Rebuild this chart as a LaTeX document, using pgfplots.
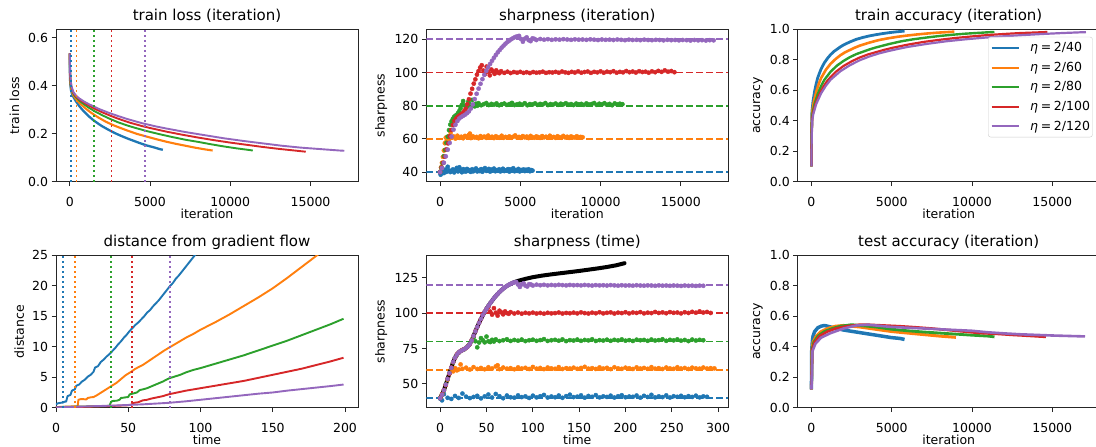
\documentclass[border=0pt]{standalone}
\usepackage{fontspec}
\setmainfont{DejaVu Sans}
\usepackage{pgfplots}
\usepackage{pgfplotstable}
\pgfplotsset{compat=1.18}
\definecolor{c0}{HTML}{1F77B4}
\definecolor{c1}{HTML}{FF7F0E}
\definecolor{c2}{HTML}{2CA02C}
\definecolor{c3}{HTML}{D62728}
\definecolor{c4}{HTML}{9467BD}
\newcommand{\lbfont}{\fontsize{12.5}{15}\selectfont}
\newcommand{\ttfont}{\fontsize{15}{18}\selectfont}

\pgfplotstableread{
t it s
0 0 39.6
2 40 38.4
4 80 42.8
8 160 40.2
12 240 39.4
16 320 41.5
20 400 40.1
24 480 43.2
28 560 41.0
32 640 40.0
36 720 40.8
40 800 41.6
44 880 39.8
48 960 41.2
52 1040 42.5
56 1120 40.4
60 1200 42.9
64 1280 41.3
68 1360 39.9
72 1440 41.8
76 1520 40.6
80 1600 40.3
84 1680 41.9
88 1760 40.7
92 1840 41.2
96 1920 40.1
100 2000 41.7
104 2080 40.5
108 2160 41.3
112 2240 42.2
116 2320 40.4
120 2400 41.1
124 2480 40.6
128 2560 41.8
132 2640 40.2
136 2720 41.4
140 2800 42.4
144 2880 40.7
148 2960 41.0
152 3040 41.9
156 3120 40.3
160 3200 41.5
164 3280 40.9
168 3360 42.1
172 3440 40.5
176 3520 41.2
180 3600 40.8
184 3680 41.7
188 3760 40.4
192 3840 41.3
196 3920 42.0
200 4000 40.6
204 4080 41.1
208 4160 40.9
212 4240 41.8
216 4320 40.3
220 4400 41.6
224 4480 40.8
228 4560 42.3
232 4640 40.5
236 4720 41.2
240 4800 40.7
244 4880 41.9
248 4960 40.4
252 5040 41.3
256 5120 40.9
260 5200 41.6
264 5280 40.6
268 5360 41.4
272 5440 40.8
276 5520 41.7
280 5600 40.5
284 5680 41.2
288 5760 40.9
}\blueS

\pgfplotstableread{
t it s
0 0 40.2
2 60 42.8
4 120 45.6
6 180 49.2
8 240 53.0
10 300 57.4
12 360 60.8
14 420 58.9
16 480 61.2
18 540 59.6
20 600 60.3
22 660 63.8
24 720 60.7
28 840 61.5
32 960 60.2
36 1080 61.9
40 1200 60.6
44 1320 61.3
48 1440 60.4
52 1560 61.8
56 1680 60.9
60 1800 62.4
62 1860 63.2
64 1920 60.5
68 2040 61.6
72 2160 60.8
76 2280 61.2
80 2400 60.4
84 2520 61.7
88 2640 60.9
92 2760 61.4
96 2880 60.6
100 3000 62.0
104 3120 60.8
108 3240 61.3
112 3360 60.5
116 3480 61.6
120 3600 61.0
124 3720 60.7
128 3840 61.9
132 3960 60.6
136 4080 61.2
140 4200 60.9
144 4320 61.5
148 4440 60.7
152 4560 61.3
156 4680 62.1
160 4800 60.8
164 4920 61.2
168 5040 60.6
172 5160 61.7
176 5280 60.9
180 5400 61.4
184 5520 60.5
188 5640 61.8
192 5760 61.0
196 5880 60.7
200 6000 61.5
204 6120 61.1
208 6240 60.6
212 6360 61.7
216 6480 60.9
220 6600 61.3
224 6720 60.7
228 6840 61.9
232 6960 60.8
236 7080 61.2
240 7200 60.6
244 7320 61.6
248 7440 61.0
252 7560 60.7
256 7680 61.8
260 7800 60.9
264 7920 61.3
268 8040 60.6
272 8160 61.5
276 8280 61.0
280 8400 60.8
284 8520 61.6
288 8640 60.9
292 8760 61.2
296 8880 61.0
}\orangeS

\pgfplotstableread{
t it s
0 0 40.1
2 80 42.6
4 160 45.4
6 240 49.6
8 320 53.4
10 400 57.6
12 480 61.4
14 560 65.3
16 640 68.6
18 720 70.6
20 800 72.1
22 880 73.3
24 960 74.0
26 1040 74.5
28 1120 75.6
30 1200 76.8
32 1280 78.5
34 1360 80.6
36 1440 82.8
38 1520 80.2
40 1600 75.9
42 1680 79.3
44 1760 82.4
46 1840 81.0
48 1920 79.4
50 2000 83.5
52 2080 80.2
54 2160 79.6
56 2240 81.2
58 2320 80.0
60 2400 81.5
64 2560 80.3
68 2720 80.9
72 2880 81.6
76 3040 80.4
80 3200 81.1
84 3360 80.6
88 3520 81.4
92 3680 80.3
96 3840 80.9
100 4000 81.3
104 4160 80.5
108 4320 81.0
112 4480 81.7
116 4640 80.4
120 4800 80.9
124 4960 81.2
128 5120 80.6
132 5280 81.5
136 5440 80.3
140 5600 81.0
144 5760 80.7
148 5920 81.4
152 6080 80.5
156 6240 81.1
160 6400 80.8
164 6560 81.6
168 6720 80.4
172 6880 81.0
176 7040 80.7
180 7200 81.3
184 7360 80.5
188 7520 81.2
192 7680 80.8
196 7840 81.5
200 8000 80.6
204 8160 81.0
208 8320 80.4
212 8480 81.3
216 8640 80.9
220 8800 81.1
224 8960 80.5
228 9120 81.4
232 9280 80.7
236 9440 81.0
240 9600 81.6
244 9760 80.5
248 9920 81.2
252 10080 80.8
256 10240 81.5
260 10400 80.6
264 10560 81.1
268 10720 80.3
272 10880 81.4
276 11040 80.7
280 11200 81.2
284 11360 80.9
}\greenS

\pgfplotstableread{
t it s
0 0 40.0
2 100 42.7
4 200 45.6
6 300 49.3
8 400 53.6
10 500 57.3
12 600 61.6
14 700 65.4
16 800 68.4
18 900 70.9
20 1000 72.2
22 1100 73.3
24 1200 74.0
26 1300 74.7
28 1400 75.4
30 1500 76.7
32 1600 78.2
34 1700 80.9
36 1800 83.9
38 1900 87.3
40 2000 90.2
42 2100 93.3
44 2200 95.9
46 2300 98.7
48 2400 100.9
50 2500 103.0
52 2600 104.4
54 2700 101.2
56 2800 99.0
58 2900 103.6
60 3000 100.4
62 3100 98.3
64 3200 101.8
66 3300 100.6
68 3400 99.2
70 3500 101.3
72 3600 100.1
74 3700 99.6
76 3800 100.8
80 4000 99.8
84 4200 100.5
88 4400 99.7
92 4600 100.3
96 4800 99.9
100 5000 100.4
104 5200 99.8
108 5400 100.2
112 5600 99.7
116 5800 100.3
120 6000 99.9
124 6200 100.1
128 6400 100.5
132 6600 99.8
136 6800 100.2
140 7000 100.0
144 7200 100.4
148 7400 99.9
152 7600 100.6
156 7800 100.1
160 8000 99.8
164 8200 100.4
168 8400 100.0
172 8600 100.7
176 8800 99.9
180 9000 100.3
184 9200 100.6
188 9400 99.8
192 9600 100.4
196 9800 100.1
200 10000 100.7
204 10200 99.9
208 10400 100.5
212 10600 100.2
216 10800 100.8
220 11000 99.9
224 11200 100.4
228 11400 100.1
232 11600 100.9
236 11800 100.2
240 12000 100.6
244 12200 100.0
248 12400 100.8
252 12600 100.3
256 12800 100.5
260 13000 99.9
264 13200 100.7
268 13400 100.2
272 13600 101.0
276 13800 100.4
280 14000 101.3
284 14200 100.5
288 14400 100.9
292 14600 100.2
}\redS

\pgfplotstableread{
t it s
0 0 40.0
2 120 42.4
4 240 45.6
6 360 49.5
8 480 53.5
10 600 57.6
12 720 61.4
14 840 65.6
16 960 68.5
18 1080 70.7
20 1200 72.3
22 1320 73.2
24 1440 73.9
26 1560 74.6
28 1680 75.5
30 1800 76.6
32 1920 78.3
34 2040 80.8
36 2160 84.0
38 2280 87.2
40 2400 90.3
42 2520 93.2
44 2640 96.0
46 2760 98.6
48 2880 101.0
50 3000 103.2
52 3120 105.2
54 3240 107.1
56 3360 108.9
58 3480 110.6
60 3600 112.2
62 3720 113.6
64 3840 115.0
66 3960 116.2
68 4080 117.4
70 4200 118.4
72 4320 119.3
74 4440 120.1
76 4560 120.8
78 4680 121.4
80 4800 121.8
82 4920 122.1
84 5040 120.3
86 5160 118.6
88 5280 120.4
90 5400 121.2
92 5520 119.5
94 5640 118.9
96 5760 120.6
98 5880 120.3
100 6000 119.6
104 6240 120.2
108 6480 119.8
112 6720 120.1
116 6960 119.7
120 7200 120.0
124 7440 119.8
128 7680 120.1
132 7920 119.9
136 8160 119.7
140 8400 120.0
144 8640 119.8
148 8880 119.9
152 9120 119.7
156 9360 120.0
160 9600 119.8
164 9840 119.6
168 10080 119.9
172 10320 119.7
176 10560 119.8
180 10800 119.6
184 11040 119.9
188 11280 119.7
192 11520 119.5
196 11760 119.8
200 12000 119.6
204 12240 119.7
208 12480 119.5
212 12720 119.8
216 12960 119.6
220 13200 119.5
224 13440 119.7
228 13680 119.6
232 13920 119.4
236 14160 119.7
240 14400 119.5
244 14640 119.6
248 14880 119.4
252 15120 119.6
256 15360 119.5
260 15600 119.3
264 15840 119.6
268 16080 119.4
272 16320 119.5
276 16560 119.3
280 16800 119.5
284 17040 119.4
}\purpleS

\pgfplotsset{
 every axis title shift=0pt,
 base/.style={
  scale only axis, width=302pt, height=152.3pt, anchor=south west,
  scaled ticks=false,
  axis line style={line width=0.9pt, black!85},
  tick align=outside, tick pos=left, major tick length=4.4pt,
  tick style={line width=0.9pt, black!85},
  tick label style={font=\lbfont},
  xticklabel shift=8pt,
  label style={font=\lbfont},
  xlabel style={at={(axis description cs:0.5,0)}, anchor=base, inner sep=0pt, yshift=-37pt},
  title style={at={(axis description cs:0.5,1)}, anchor=base, inner sep=0pt, yshift=8.5pt, font=\ttfont},
 },
 ln/.style={line width=1.9pt, color=#1, line join=round},
 dt/.style={line width=1.9pt, color=#1, dash pattern=on 1.9pt off 3.1pt},
 ds/.style={line width=1.9pt, color=#1, dash pattern=on 7pt off 3pt},
 sc/.style={only marks, mark=*, mark size=2.1pt, color=#1, mark options={draw=none, fill=#1}},
}

\begin{document}
\begin{tikzpicture}
% ---------------- train loss (iteration)
\begin{axis}[base, at={(56pt,265.3pt)},
  xmin=-855, xmax=17955, ymin=0, ymax=0.635,
  xtick={0,5000,10000,15000}, xticklabels={0,5000,10000,15000},
  ytick={0,0.2,0.4,0.6}, yticklabels={0.0,0.2,0.4,0.6},
  title={train loss (iteration)}, xlabel={iteration}, ylabel={train loss},
  ylabel style={at={(axis description cs:-0.1225,0.5)}, anchor=base}]
\addplot[ln=c0, line width=2.3pt] coordinates {(0,0.535) (4,0.50) (10,0.455) (20,0.428) (40,0.403) (80,0.381) (140,0.367) (200,0.357) (300,0.345) (400,0.334) (600,0.315) (800,0.299) (1000,0.285) (1200,0.272) (1500,0.255) (1800,0.241) (2000,0.232) (2400,0.217) (2800,0.203) (3200,0.191) (3600,0.180) (4000,0.170) (4400,0.160) (4800,0.151) (5200,0.144) (5600,0.136) (5800,0.133)};
\addplot[ln=c1, line width=2.1pt] coordinates {(0,0.535) (6,0.50) (15,0.452) (30,0.425) (60,0.401) (120,0.378) (210,0.363) (300,0.353) (450,0.340) (600,0.329) (900,0.310) (1200,0.294) (1500,0.280) (1800,0.267) (2250,0.250) (2700,0.236) (3000,0.228) (3600,0.213) (4200,0.199) (4800,0.188) (5400,0.177) (6000,0.167) (6600,0.158) (7200,0.150) (7800,0.142) (8400,0.135) (8900,0.130)};
\addplot[ln=c2] coordinates {(0,0.535) (8,0.50) (20,0.451) (40,0.424) (80,0.399) (160,0.376) (280,0.361) (400,0.351) (600,0.338) (800,0.327) (1200,0.308) (1600,0.292) (2000,0.278) (2400,0.265) (3000,0.248) (3600,0.234) (4000,0.226) (4800,0.211) (5600,0.198) (6400,0.186) (7200,0.175) (8000,0.166) (8800,0.156) (9600,0.147) (10400,0.139) (11200,0.132) (11400,0.130)};
\addplot[ln=c3] coordinates {(0,0.535) (10,0.50) (25,0.45) (50,0.422) (100,0.397) (200,0.374) (350,0.359) (500,0.349) (750,0.336) (1000,0.325) (1500,0.306) (2000,0.290) (2500,0.276) (3000,0.263) (3750,0.246) (4500,0.232) (5000,0.224) (6000,0.209) (7000,0.196) (8000,0.184) (9000,0.173) (10000,0.163) (11000,0.154) (12000,0.145) (13000,0.137) (14000,0.130) (14700,0.125)};
\addplot[ln=c4] coordinates {(0,0.535) (12,0.50) (30,0.45) (60,0.42) (120,0.395) (240,0.372) (420,0.357) (600,0.347) (900,0.334) (1200,0.323) (1800,0.304) (2400,0.288) (3000,0.274) (3600,0.261) (4500,0.244) (5400,0.230) (6000,0.222) (7200,0.207) (8400,0.194) (9600,0.181) (10800,0.170) (12000,0.160) (13200,0.150) (14400,0.142) (15600,0.136) (16800,0.130) (17100,0.129)};
\addplot[dt=c0] coordinates {(100,0) (100,0.635)};
\addplot[dt=c1] coordinates {(420,0) (420,0.635)};
\addplot[dt=c2] coordinates {(1500,0) (1500,0.635)};
\addplot[dt=c3] coordinates {(2600,0) (2600,0.635)};
\addplot[dt=c4] coordinates {(4700,0) (4700,0.635)};
\end{axis}

% ---------------- sharpness (iteration)
\begin{axis}[base, at={(426.3pt,265.3pt)},
  xmin=-855, xmax=17955, ymin=34.2, ymax=126,
  xtick={0,5000,10000,15000}, xticklabels={0,5000,10000,15000},
  ytick={40,60,80,100,120}, yticklabels={40,60,80,100,120},
  title={sharpness (iteration)}, xlabel={iteration}, ylabel={sharpness},
  ylabel style={at={(axis description cs:-0.1384,0.5)}, anchor=base}]
\addplot[ds=c0] coordinates {(-855,40) (17955,40)};
\addplot[ds=c1] coordinates {(-855,60) (17955,60)};
\addplot[ds=c2] coordinates {(-855,80) (17955,80)};
\addplot[ds=c3] coordinates {(-855,100) (17955,100)};
\addplot[ds=c4] coordinates {(-855,120) (17955,120)};
\addplot[sc=c0] table[x=it, y=s] {\blueS};
\addplot[sc=c1] table[x=it, y=s] {\orangeS};
\addplot[sc=c2] table[x=it, y=s] {\greenS};
\addplot[sc=c3] table[x=it, y=s] {\redS};
\addplot[sc=c4] table[x=it, y=s] {\purpleS};
\end{axis}

% ---------------- train accuracy (iteration)
\begin{axis}[base, at={(797.7pt,265.3pt)},
  xmin=-855, xmax=17955, ymin=0, ymax=1,
  xtick={0,5000,10000,15000}, xticklabels={0,5000,10000,15000},
  ytick={0,0.2,0.4,0.6,0.8,1}, yticklabels={0.0,0.2,0.4,0.6,0.8,1.0},
  title={train accuracy (iteration)}, xlabel={iteration}, ylabel={accuracy},
  ylabel style={at={(axis description cs:-0.1242,0.5)}, anchor=base},
  legend style={at={(axis description cs:1,1)}, anchor=north east, xshift=-7pt, yshift=-7.4pt,
    draw=black!20, fill=white, fill opacity=0.8, text opacity=1, rounded corners=2.5pt,
    font=\lbfont, inner xsep=2.5pt, inner ysep=5.5pt, row sep=8.8pt,
    nodes={inner sep=0pt, anchor=base west}},
  legend image code/.code={\draw[#1, line width=1.9pt] (0pt,3.8pt) -- (27pt,3.8pt); \path (37pt,0pt);}]
\addplot[ln=c0, line width=2.8pt] coordinates {(0,0.10) (6,0.33) (20,0.44) (40,0.47) (100,0.53) (200,0.595) (300,0.645) (400,0.685) (600,0.74) (800,0.78) (1000,0.81) (1200,0.835) (1400,0.855) (1600,0.87) (1800,0.885) (2000,0.898) (2400,0.918) (2800,0.935) (3200,0.947) (3600,0.957) (4000,0.965) (4400,0.972) (4800,0.978) (5200,0.983) (5600,0.987) (5800,0.989)};
\addlegendentry{\textit{η}\hspace{0.22em}=\hspace{0.22em}2/40}
\addplot[ln=c1, line width=2.6pt] coordinates {(0,0.10) (9,0.32) (30,0.43) (60,0.465) (150,0.525) (300,0.59) (450,0.64) (600,0.68) (900,0.735) (1200,0.775) (1500,0.805) (1800,0.83) (2100,0.85) (2400,0.865) (2700,0.88) (3000,0.893) (3600,0.913) (4200,0.93) (4800,0.942) (5400,0.952) (6000,0.96) (6600,0.967) (7200,0.973) (7800,0.978) (8400,0.982) (8900,0.985)};
\addlegendentry{\textit{η}\hspace{0.22em}=\hspace{0.22em}2/60}
\addplot[ln=c2, line width=2.4pt] coordinates {(0,0.10) (12,0.31) (40,0.42) (80,0.455) (200,0.513) (400,0.578) (600,0.628) (800,0.668) (1200,0.723) (1600,0.763) (2000,0.793) (2400,0.818) (2800,0.838) (3200,0.853) (3600,0.868) (4000,0.881) (4800,0.903) (5600,0.922) (6400,0.936) (7200,0.947) (8000,0.957) (8800,0.965) (9600,0.972) (10400,0.977) (11000,0.981) (11400,0.983)};
\addlegendentry{\textit{η}\hspace{0.22em}=\hspace{0.22em}2/80}
\addplot[ln=c3, line width=2.2pt] coordinates {(0,0.10) (15,0.31) (50,0.415) (100,0.45) (250,0.51) (500,0.575) (750,0.625) (1000,0.665) (1500,0.72) (2000,0.76) (2500,0.79) (3000,0.815) (3500,0.835) (4000,0.85) (4500,0.865) (5000,0.878) (6000,0.9) (7000,0.918) (8000,0.932) (9000,0.944) (10000,0.954) (11000,0.963) (12000,0.97) (13000,0.976) (14000,0.98) (14700,0.983)};
\addlegendentry{\textit{η}\hspace{0.22em}=\hspace{0.22em}2/100}
\addplot[ln=c4, line width=2.2pt] coordinates {(0,0.10) (18,0.30) (60,0.41) (120,0.445) (300,0.51) (600,0.58) (900,0.63) (1200,0.67) (1800,0.725) (2400,0.765) (3000,0.797) (3600,0.822) (4200,0.842) (4800,0.858) (5400,0.872) (6000,0.885) (7200,0.905) (8400,0.922) (9600,0.935) (10800,0.946) (12000,0.955) (13200,0.963) (14400,0.97) (15600,0.976) (16800,0.981) (17100,0.982)};
\addlegendentry{\textit{η}\hspace{0.22em}=\hspace{0.22em}2/120}
\end{axis}

% ---------------- distance from gradient flow
\begin{axis}[base, at={(56pt,39.3pt)},
  xmin=0, xmax=209, ymin=0, ymax=25,
  xtick={0,50,100,150,200}, xticklabels={0,50,100,150,200},
  ytick={0,5,10,15,20,25}, yticklabels={0,5,10,15,20,25},
  title={distance from gradient flow}, xlabel={time}, ylabel={distance},
  ylabel style={at={(axis description cs:-0.1066,0.5)}, anchor=base}]
\addplot[ln=c0] coordinates {(0,0.5) (1,0.7) (3,0.8) (5,0.85) (6,1.0) (7,1.0) (8,1.9) (10,2.1) (11,2.8) (13,3.0) (14,3.6) (16,3.8) (18,4.3) (20,4.6) (22,5.1) (24,5.4) (26,5.9) (27,6.6) (29,6.8) (31,7.5) (33,7.9) (35,8.4) (37,8.8) (39,9.3) (41,9.8) (43,10.4) (45,10.9) (47,11.5) (49,12.0) (51,12.6) (53,13.1) (55,13.6) (57,14.0) (59,14.5) (61,15.0) (63,15.6) (65,16.0) (67,16.6) (69,17.1) (71,17.6) (73,18.2) (75,18.8) (77,19.4) (79,20.0) (81,20.5) (83,21.2) (85,21.7) (87,22.3) (89,22.9) (91,23.5) (93,24.1) (95,24.7) (97,25.3) (100,26.2)};
\addplot[ln=c1] coordinates {(0,0.1) (5,0.15) (10,0.2) (15,0.25) (15.5,1.3) (17,1.4) (19,1.4) (21,1.35) (22,1.6) (24,1.7) (26,1.75) (28,2.0) (30,2.3) (32,2.6) (34,2.9) (36,3.2) (38,3.5) (40,3.8) (42,4.1) (44,4.5) (46,4.9) (48,5.3) (50,5.6) (52,5.9) (55,6.4) (60,7.0) (65,7.8) (70,8.6) (75,9.4) (80,10.1) (85,10.8) (90,11.5) (95,12.1) (100,12.8) (110,14.0) (120,15.3) (130,16.7) (140,18.1) (150,19.6) (160,21.3) (170,23.1) (180,24.9) (185,25.8)};
\addplot[ln=c2] coordinates {(0,0.1) (10,0.15) (20,0.2) (30,0.25) (37,0.3) (38,0.9) (39,1.1) (42,1.15) (44,1.3) (45,1.6) (47,1.65) (48,1.7) (50,1.75) (51,2.2) (53,2.3) (56,2.5) (58,2.9) (60,3.0) (63,3.2) (66,3.5) (70,3.9) (74,4.3) (78,4.8) (82,5.1) (86,5.4) (90,5.8) (95,6.2) (100,6.5) (110,7.2) (120,7.9) (130,8.6) (140,9.4) (150,10.2) (160,11.0) (170,11.9) (180,12.8) (190,13.7) (199,14.6)};
\addplot[ln=c3] coordinates {(0,0.05) (20,0.15) (40,0.3) (50,0.4) (52,0.5) (54,0.8) (57,0.9) (60,1.2) (63,1.3) (66,1.5) (70,1.7) (74,1.9) (78,2.2) (82,2.4) (86,2.6) (90,2.8) (95,3.0) (100,3.2) (110,3.6) (120,4.0) (130,4.4) (140,4.9) (150,5.4) (160,5.9) (170,6.4) (180,7.0) (190,7.6) (199,8.2)};
\addplot[ln=c4] coordinates {(0,0.05) (20,0.2) (40,0.35) (60,0.55) (78,0.8) (90,1.05) (100,1.3) (110,1.55) (120,1.8) (130,2.05) (140,2.3) (150,2.5) (160,2.8) (170,3.05) (180,3.3) (190,3.55) (199,3.8)};
\addplot[dt=c0] coordinates {(5.1,0) (5.1,25)};
\addplot[dt=c1] coordinates {(13.4,0) (13.4,25)};
\addplot[dt=c2] coordinates {(37.8,0) (37.8,25)};
\addplot[dt=c3] coordinates {(52.4,0) (52.4,25)};
\addplot[dt=c4] coordinates {(78.8,0) (78.8,25)};
\end{axis}

% ---------------- sharpness (time)
\begin{axis}[base, at={(426.3pt,39.3pt)},
  xmin=-15, xmax=311, ymin=33.2, ymax=140.9,
  xtick={0,50,100,150,200,250,300}, xticklabels={0,50,100,150,200,250,300},
  ytick={50,75,100,125}, yticklabels={50,75,100,125},
  title={sharpness (time)}, xlabel={time}, ylabel={sharpness},
  ylabel style={at={(axis description cs:-0.1384,0.5)}, anchor=base}]
\addplot[ds=c0] coordinates {(-15,40) (311,40)};
\addplot[ds=c1] coordinates {(-15,60) (311,60)};
\addplot[ds=c2] coordinates {(-15,80) (311,80)};
\addplot[ds=c3] coordinates {(-15,100) (311,100)};
\addplot[ds=c4] coordinates {(-15,120) (311,120)};
\addplot[black, line width=4pt, line cap=round, line join=round] coordinates {(0,40.0) (2,42.5) (4,45.5) (6,49.5) (8,53.5) (10,57.5) (12,61.5) (14,65.5) (16,68.5) (18,70.8) (20,72.3) (22,73.2) (24,73.9) (26,74.6) (28,75.5) (30,76.6) (32,78.3) (34,80.8) (36,84.0) (38,87.2) (40,90.3) (42,93.2) (44,96.0) (46,98.6) (48,101.0) (50,103.2) (52,105.2) (54,107.1) (56,108.9) (58,110.6) (60,112.2) (62,113.6) (64,115.0) (66,116.2) (68,117.4) (70,118.4) (72,119.3) (74,120.1) (76,120.8) (78,121.4) (80,122.0) (84,122.9) (88,123.6) (92,124.3) (96,124.9) (100,125.5) (110,126.6) (120,127.5) (130,128.3) (140,129.1) (150,129.9) (160,130.8) (170,131.7) (180,132.7) (190,133.9) (199,135.4)};
\addplot[sc=c0] table[x=t, y=s] {\blueS};
\addplot[sc=c1] table[x=t, y=s] {\orangeS};
\addplot[sc=c2] table[x=t, y=s] {\greenS};
\addplot[sc=c3] table[x=t, y=s] {\redS};
\addplot[sc=c4] table[x=t, y=s] {\purpleS};
\end{axis}

% ---------------- test accuracy (iteration)
\begin{axis}[base, at={(797.7pt,39.3pt)},
  xmin=-855, xmax=17955, ymin=0, ymax=1,
  xtick={0,5000,10000,15000}, xticklabels={0,5000,10000,15000},
  ytick={0,0.2,0.4,0.6,0.8,1}, yticklabels={0.0,0.2,0.4,0.6,0.8,1.0},
  title={test accuracy (iteration)}, xlabel={iteration}, ylabel={accuracy},
  ylabel style={at={(axis description cs:-0.1242,0.5)}, anchor=base}]
\addplot[ln=c0, line width=3.5pt] coordinates {(0,0.12) (20,0.38) (60,0.44) (100,0.47) (200,0.50) (400,0.525) (600,0.535) (800,0.54) (1000,0.535) (1400,0.525) (2000,0.51) (2600,0.50) (3200,0.49) (3800,0.48) (4400,0.47) (5000,0.46) (5500,0.455) (5800,0.448)};
\addplot[ln=c1, line width=3pt] coordinates {(0,0.12) (30,0.38) (100,0.43) (300,0.47) (600,0.50) (1000,0.52) (1500,0.535) (2000,0.54) (2500,0.535) (3000,0.53) (4000,0.515) (5000,0.50) (6000,0.49) (7000,0.48) (8000,0.47) (9000,0.462)};
\addplot[ln=c2, line width=2.8pt] coordinates {(0,0.12) (40,0.38) (150,0.43) (400,0.47) (800,0.50) (1300,0.52) (1800,0.535) (2500,0.545) (3000,0.54) (4000,0.53) (5000,0.515) (6000,0.505) (7000,0.497) (8000,0.49) (9000,0.483) (10000,0.476) (11000,0.47) (11400,0.465)};
\addplot[ln=c3, line width=2.6pt] coordinates {(0,0.12) (50,0.38) (200,0.43) (500,0.47) (1000,0.50) (1500,0.52) (2200,0.535) (3000,0.545) (3500,0.545) (4500,0.54) (5500,0.535) (6500,0.528) (7500,0.52) (8500,0.51) (9500,0.50) (10500,0.49) (11500,0.485) (12500,0.478) (13500,0.472) (14600,0.465)};
\addplot[ln=c4, line width=2.6pt] coordinates {(0,0.12) (60,0.37) (250,0.42) (600,0.46) (1200,0.49) (2000,0.52) (2800,0.54) (3500,0.545) (4000,0.54) (5000,0.53) (6000,0.525) (7000,0.52) (8000,0.515) (9000,0.51) (10000,0.505) (11000,0.495) (12000,0.488) (13000,0.482) (14000,0.478) (15000,0.474) (16000,0.471) (17040,0.468)};
\end{axis}

\pgfresetboundingbox
\path[use as bounding box] (0pt,0pt) rectangle (1096pt,447pt);
\end{tikzpicture}
\end{document}
